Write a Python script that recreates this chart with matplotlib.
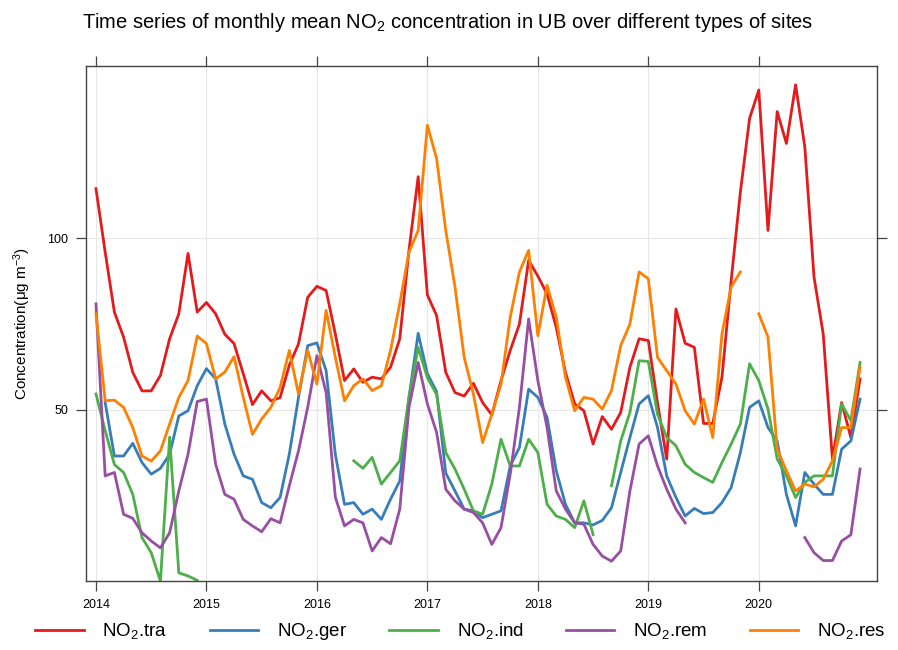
import numpy as np
import matplotlib
matplotlib.use("Agg")
import matplotlib.pyplot as plt

plt.rcParams["font.family"] = ["Liberation Sans", "DejaVu Sans"]
plt.rcParams["mathtext.fontset"] = "custom"
plt.rcParams["mathtext.rm"] = "Liberation Sans"
plt.rcParams["mathtext.it"] = "Liberation Sans:italic"

nan = np.nan
years = [2014, 2015, 2016, 2017, 2018, 2019, 2020]

# monthly means Jan 2014 .. Dec 2020 (ug m-3)
tra = [114.5, 96, 78.5, 71.2, 60.9, 55.5, 55.5, 60, 70.7, 78, 95.6, 78.5,
       81.3, 78, 72, 69.3, 60.5, 51.5, 55.5, 52.6, 53.5, 63, 69.2, 82.8,
       86, 84.8, 72.1, 58.5, 61.9, 58, 59.5, 59, 62.4, 70.7, 96.5, 118,
       83.5, 77.5, 60.9, 55, 54, 57.7, 52.1, 48.5, 58.5, 67.3, 75, 93.6,
       89, 83.8, 74, 60.9, 51.7, 49.7, 40, 48, 44.3, 49.2, 62.4, 70.7,
       70.2, 52, 35.6, 79.4, 69.4, 68.2, 46, 46, 59.5, 87.7, 113.5, 135,
       143.3, 102.3, 137, 127.7, 144.8, 126.7, 88.7, 72.1, 35.6, 52.1, 41.9, 59]
ger = [nan, 52.1, 36.5, 36.5, 40.2, 34.6, 31.2, 32.9, 37, 48.2, 49.7, 57,
       62, 59, 45.8, 37, 30.7, 29.7, 22.9, 21.4, 24.4, 37, 53.6, 68.7,
       69.5, 61.4, 37, 22.4, 22.9, 19.5, 21, 18, 23.9, 29.2, 53.6, 72.3,
       60.5, 55.3, 31.5, 26.3, 21, 20.5, 18.5, 19.5, 20.5, 33.6, 39, 56,
       53.6, 47.8, 32.2, 22.4, 17, 17, 16.4, 17.7, 21.4, 31.7, 41.9, 51.7,
       54.1, 44.8, 30.7, 24.4, 19, 21.2, 19.7, 20, 22.9, 27.3, 37.5, 50.7,
       52.6, 44.8, 40.9, 25.3, 16.1, 31.7, 28.3, 25.3, 25.3, 38.5, 40.9, 53.1]
ind = [54.6, 43.9, 34, 31.7, 25.3, 12.7, 8.3, 0, 42, 2.4, 1.5, 0.2,
       nan, nan, nan, nan, nan, nan, nan, nan, nan, nan, nan, nan,
       nan, nan, nan, nan, 35.1, 32.9, 36.1, 28.3, 31.7, 35.1, 53.6, 68.2,
       59.3, 54.5, 37.5, 32.7, 26.8, 20.5, 19.5, 28.3, 41.4, 33.6, 33.6, 41.4,
       37.5, 22.4, 19, 18, 15.6, 23.4, 13.6, nan, 27.8, 40.9, 49.2, 64.3,
       64.1, 48.7, 41.9, 39.5, 34.1, 31.7, 30.2, 28.8, 34.6, 40, 45.8, 63.4,
       58.5, 50.2, 35.6, 30.7, 24.4, 28.8, 30.7, 30.7, 30.7, 51.7, 46.8, 63.8]
rem = [80.9, 30.7, 31.7, 19.5, 18.3, 14.1, 11.7, 9.7, 14.1, 26.3, 37, 52.4,
       53.1, 34.1, 25.3, 23.9, 18, 16.1, 14.4, 18.2, 17, 27.8, 38, 50.7,
       65.8, 55, 24.5, 16.1, 18, 17, 8.8, 12.7, 10.9, 21, 50.7, 63.8,
       51.7, 43.4, 26.8, 23.4, 21, 20, 17, 10.7, 15.6, 31.2, 50.7, 76.5,
       58.5, 44.8, 26.3, 21, 17, 16.6, 10.7, 7.3, 5.8, 8.8, 26.3, 40,
       42.4, 33.6, 26.8, 21, 17, nan, nan, nan, nan, nan, nan, nan,
       nan, nan, nan, nan, nan, 12.7, 8.3, 6, 6, 11.7, 13.5, 32.7]
res = [78, 52.6, 52.8, 50.7, 44.8, 36.5, 35, 38, 45.8, 53.6, 58.5, 71.5,
       69.3, 59, 61, 65.5, 53.6, 42.8, 47.3, 50.7, 56.5, 67.3, 54.6, 67.3,
       57.5, 79, 65.3, 52.6, 57, 59, 55.6, 57, 67.3, 81, 96, 102.3,
       133, 123.3, 102.3, 85.8, 65.3, 54.6, 40.4, 48.7, 57.5, 77, 90.2, 96.5,
       71.6, 86.3, 77, 59.5, 49.7, 53.6, 53.1, 50.2, 55.6, 68.7, 75, 90.2,
       88.2, 65.3, 61.4, 57.5, 49.7, 45.8, 53.1, 41.9, 72.1, 85.8, 90.2, nan,
       78, 71.2, 38.5, 32.2, 26.3, 28.3, 27.5, 29.7, 35.1, 44.8, 44.8, 62.4]

series = [
    (tra, "#e41a1c", r"NO$_2$.tra"),
    (ger, "#377eb8", r"NO$_2$.ger"),
    (ind, "#4daf4a", r"NO$_2$.ind"),
    (rem, "#984ea3", r"NO$_2$.rem"),
    (res, "#ff7f00", r"NO$_2$.res"),
]

t = 2014 + np.arange(len(tra)) / 12.0

fig = plt.figure(figsize=(8.98, 6.5), dpi=100)
ax = fig.add_axes([0.0958, 0.106, 0.8808, 0.7925])

for vals, col, lab in series:
    ax.plot(t, vals, color=col, lw=2.0, label=lab)

ax.set_xlim(2013.91, 2021.07)
ax.set_ylim(0, 150.3)
ax.set_xticks(years)
ax.set_yticks([50, 100])
ax.grid(True, color="#e6e6e6", lw=0.8)
ax.set_axisbelow(True)
ax.tick_params(direction="out", length=7, width=0.9, color="#444444", pad=6,
               labelsize=9, top=True, right=True, labeltop=False, labelright=False)
for s in ax.spines.values():
    s.set_color("#444444")
    s.set_linewidth(1.0)

ax.set_ylabel(r"Concentration(μg m$^{-3}$)", fontsize=11, labelpad=10)

fig.text(82 / 898, 1 - 22 / 650,
         r"Time series of monthly mean NO$_2$ concentration in UB over different types of sites",
         fontsize=14.5, ha="left", va="center")

fig.legend(loc="lower left", bbox_to_anchor=(0.02, -0.014, 0.985, 0.065), mode="expand",
           ncol=5, frameon=False, fontsize=13.5, handlelength=2.6, handletextpad=1.0)

fig.savefig("out.png", dpi=100)
